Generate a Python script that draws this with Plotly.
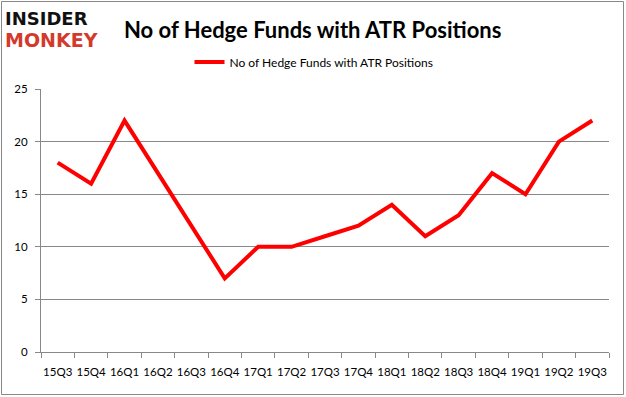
import plotly.graph_objects as go

quarters = ["15Q3", "15Q4", "16Q1", "16Q2", "16Q3", "16Q4", "17Q1", "17Q2", "17Q3",
            "17Q4", "18Q1", "18Q2", "18Q3", "18Q4", "19Q1", "19Q2", "19Q3"]
hedge_funds = [18, 16, 22, 17, 12, 7, 10, 10, 11, 12, 14, 11, 13, 17, 15, 20, 22]
series_name = "No of Hedge Funds with ATR Positions"
y_ticks = [0, 5, 10, 15, 20, 25]

W, H = 626, 397
L, R, T, B = 41, 609, 89, 352

fig = go.Figure()
fig.add_trace(go.Scatter(
    x=quarters, y=hedge_funds, mode="lines", name=series_name,
    line=dict(color="#ff0000", width=4),
))

def px_x(p):
    return (p - L) / (R - L)

def px_y(p):
    return (B - p) / (B - T)

fig.update_layout(
    width=W, height=H,
    margin=dict(l=L, r=W - R, t=T, b=H - B, autoexpand=False),
    paper_bgcolor="white", plot_bgcolor="white",
    showlegend=True,
    legend=dict(orientation="h", x=px_x(314), xanchor="center", y=px_y(62), yanchor="middle",
                font=dict(family="Lato", size=12, color="#000000"),
                itemwidth=30),
    font=dict(family="Lato", size=12, color="#000000"),
    xaxis=dict(type="category", range=[-0.5, len(quarters) - 0.5], tickangle=0,
               automargin=False,
               showline=True, linecolor="#888888", linewidth=1,
               ticks="outside", tickson="boundaries", ticklen=5, tickcolor="#888888",
               ticklabelstandoff=9,
               showgrid=False, tickfont=dict(family="Lato", size=11.5, color="#000000")),
    yaxis=dict(range=[0, 25], tickvals=y_ticks, showline=True, linecolor="#888888",
               automargin=False,
               linewidth=1, ticks="outside", ticklen=5, tickcolor="#888888",
               ticklabelstandoff=5,
               showgrid=True, gridcolor="#888888", gridwidth=1, zeroline=False,
               tickfont=dict(family="Lato", size=11.5, color="#000000")),
    shapes=[dict(type="rect", xref="paper", yref="paper",
                 x0=px_x(1.5), x1=px_x(623.5), y0=px_y(394.5), y1=px_y(1.5),
                 line=dict(color="#888888", width=1), fillcolor="rgba(0,0,0,0)")],
    annotations=[
        dict(text="<b>No of Hedge Funds with ATR Positions</b>", xref="paper", yref="paper",
             x=px_x(312), y=px_y(29), xanchor="center", yanchor="middle", showarrow=False,
             font=dict(family="Lato", size=22, color="#000000")),
        dict(text="<b>INSIDER</b>", xref="paper", yref="paper",
             x=px_x(3), y=px_y(19), xanchor="left", yanchor="middle", showarrow=False,
             font=dict(family="DejaVu Sans", size=18, color="#111111")),
        dict(text="<b>MONKEY</b>", xref="paper", yref="paper",
             x=px_x(3), y=px_y(40), xanchor="left", yanchor="middle", showarrow=False,
             font=dict(family="DejaVu Sans", size=19, color="#d33a2c")),
    ],
)

fig.write_html("out.html", config={"displayModeBar": False},
               post_script="document.body.style.margin='0';document.body.style.overflow='hidden';")
